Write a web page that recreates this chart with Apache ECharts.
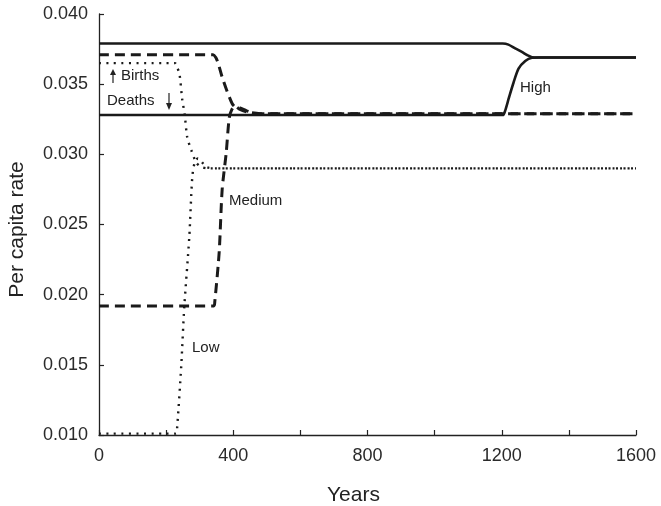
<!DOCTYPE html>
<html>
<head>
<meta charset="utf-8">
<script src="https://cdn.jsdelivr.net/npm/echarts@6/dist/echarts.min.js"></script>
<style>html,body{margin:0;padding:0;background:#fff}#c{width:661px;height:506px}</style>
</head>
<body>
<div id="c"></div>
<script>
// Years / per capita rate pairs
var highBirths = [[0,0.0379],[1203,0.0379],[1220,0.03782],[1240,0.03755],[1260,0.0373],[1275,0.03708],[1290,0.03692],[1310,0.0369],[1600,0.0369]];
var highDeaths = [[0,0.0328],[1203,0.0328],[1210,0.0331],[1221,0.0340],[1235,0.0351],[1250,0.0361],[1270,0.03665],[1290,0.03688],[1310,0.0369],[1600,0.0369]];
var mediumBirths = [[0,0.0371],[340,0.0371],[348,0.0369],[355,0.0365],[367,0.0355],[380,0.0346],[397,0.0336],[407,0.03335],[420,0.0333],[440,0.0331],[470,0.0329],[1600,0.0329]];
var mediumDeaths = [[0,0.0192],[342,0.0192],[345,0.0195],[358,0.0230],[367,0.0275],[379,0.0301],[388,0.0326],[396,0.0332],[405,0.03345],[420,0.0332],[445,0.0330],[480,0.0329],[1600,0.0329]];
var lowBirths = [[0,0.0365],[226,0.0365],[233,0.0362],[240,0.0357],[248,0.0339],[255,0.0329],[263,0.0312],[275,0.0303],[290,0.0294],[305,0.0291],[325,0.0290],[1600,0.0290]];
var lowDeaths = [[0,0.0101],[229,0.0101],[233,0.0106],[245,0.0149],[254,0.0191],[269,0.0241],[278,0.0284],[286,0.0295],[295,0.0297],[305,0.0295],[320,0.0291],[345,0.0290],[1600,0.0290]];
var xTickLabels = [0, 400, 800, 1200, 1600];

var FONT = '"Liberation Sans", Arial, Helvetica, sans-serif';
var INK = '#1a1a1a';
function mk(name, data, type, width, dash) {
  return {
    name: name, type: 'line', data: data, showSymbol: false, smooth: 0.25,
    animation: false, silent: true,
    lineStyle: { color: INK, width: width, type: dash ? dash : type, cap: 'butt' },
    z: 3
  };
}
var chart = echarts.init(document.getElementById('c'), null, { renderer: 'canvas' });
chart.setOption({
  animation: false,
  grid: { left: 99, right: 25, top: 14, bottom: 71, containLabel: false, outerBoundsMode: 'none' },
  xAxis: {
    type: 'value', min: 0, max: 1600, interval: 200,
    name: 'Years', nameLocation: 'middle', nameGap: 50,
    nameTextStyle: { fontFamily: FONT, fontSize: 21, color: '#222', padding: [0, 28, 0, 0] },
    axisLine: { show: true, onZero: false, lineStyle: { color: '#222', width: 1.3 } },
    axisTick: { show: true, inside: true, length: 5, lineStyle: { color: '#222', width: 1.2 } },
    splitLine: { show: false },
    axisLabel: {
      fontFamily: FONT, fontSize: 18, color: '#2a2a2a', margin: 12,
      formatter: function (v) { return xTickLabels.indexOf(v) >= 0 ? String(v) : ''; }
    }
  },
  yAxis: {
    type: 'value', min: 0.010, max: 0.040, interval: 0.005,
    name: 'Per capita rate', nameLocation: 'middle', nameGap: 71, nameRotate: 90,
    nameTextStyle: { fontFamily: FONT, fontSize: 21, color: '#222', padding: [0, 10, 0, 0] },
    axisLine: { show: true, onZero: false, lineStyle: { color: '#222', width: 1.3 } },
    axisTick: { show: true, inside: true, length: 5, lineStyle: { color: '#222', width: 1.2 } },
    splitLine: { show: false },
    axisLabel: {
      fontFamily: FONT, fontSize: 18, color: '#2a2a2a', margin: 11,
      formatter: function (v) { return v.toFixed(3); }
    }
  },
  series: [
    mk('High births', highBirths, 'solid', 2.6),
    mk('High deaths', highDeaths, 'solid', 2.6),
    mk('Medium births', mediumBirths, 'dashed', 3, [10, 6]),
    mk('Medium deaths', mediumDeaths, 'dashed', 3, [10, 6]),
    mk('Low births', lowBirths, 'dotted', 2.4, [2, 5.5]),
    mk('Low deaths', lowDeaths, 'dotted', 2.4, [2, 5.5])
  ],
  graphic: [
    { type: 'text', left: 121, top: 68, style: { text: 'Births', font: '15px ' + FONT, fill: '#222' } },
    { type: 'text', left: 107, top: 93, style: { text: 'Deaths', font: '15px ' + FONT, fill: '#222' } },
    { type: 'text', left: 229, top: 193, style: { text: 'Medium', font: '15px ' + FONT, fill: '#222' } },
    { type: 'text', left: 192, top: 340, style: { text: 'Low', font: '15px ' + FONT, fill: '#222' } },
    { type: 'text', left: 520, top: 80, style: { text: 'High', font: '15px ' + FONT, fill: '#222' } },
    { type: 'line', shape: { x1: 113, y1: 83, x2: 113, y2: 73 }, style: { stroke: '#222', lineWidth: 1.2 } },
    { type: 'polygon', shape: { points: [[110, 75], [116, 75], [113, 69]] }, style: { fill: '#222' } },
    { type: 'line', shape: { x1: 169, y1: 93, x2: 169, y2: 105 }, style: { stroke: '#222', lineWidth: 1.2 } },
    { type: 'polygon', shape: { points: [[166, 103], [172, 103], [169, 110]] }, style: { fill: '#222' } }
  ]
});
</script>
</body>
</html>
